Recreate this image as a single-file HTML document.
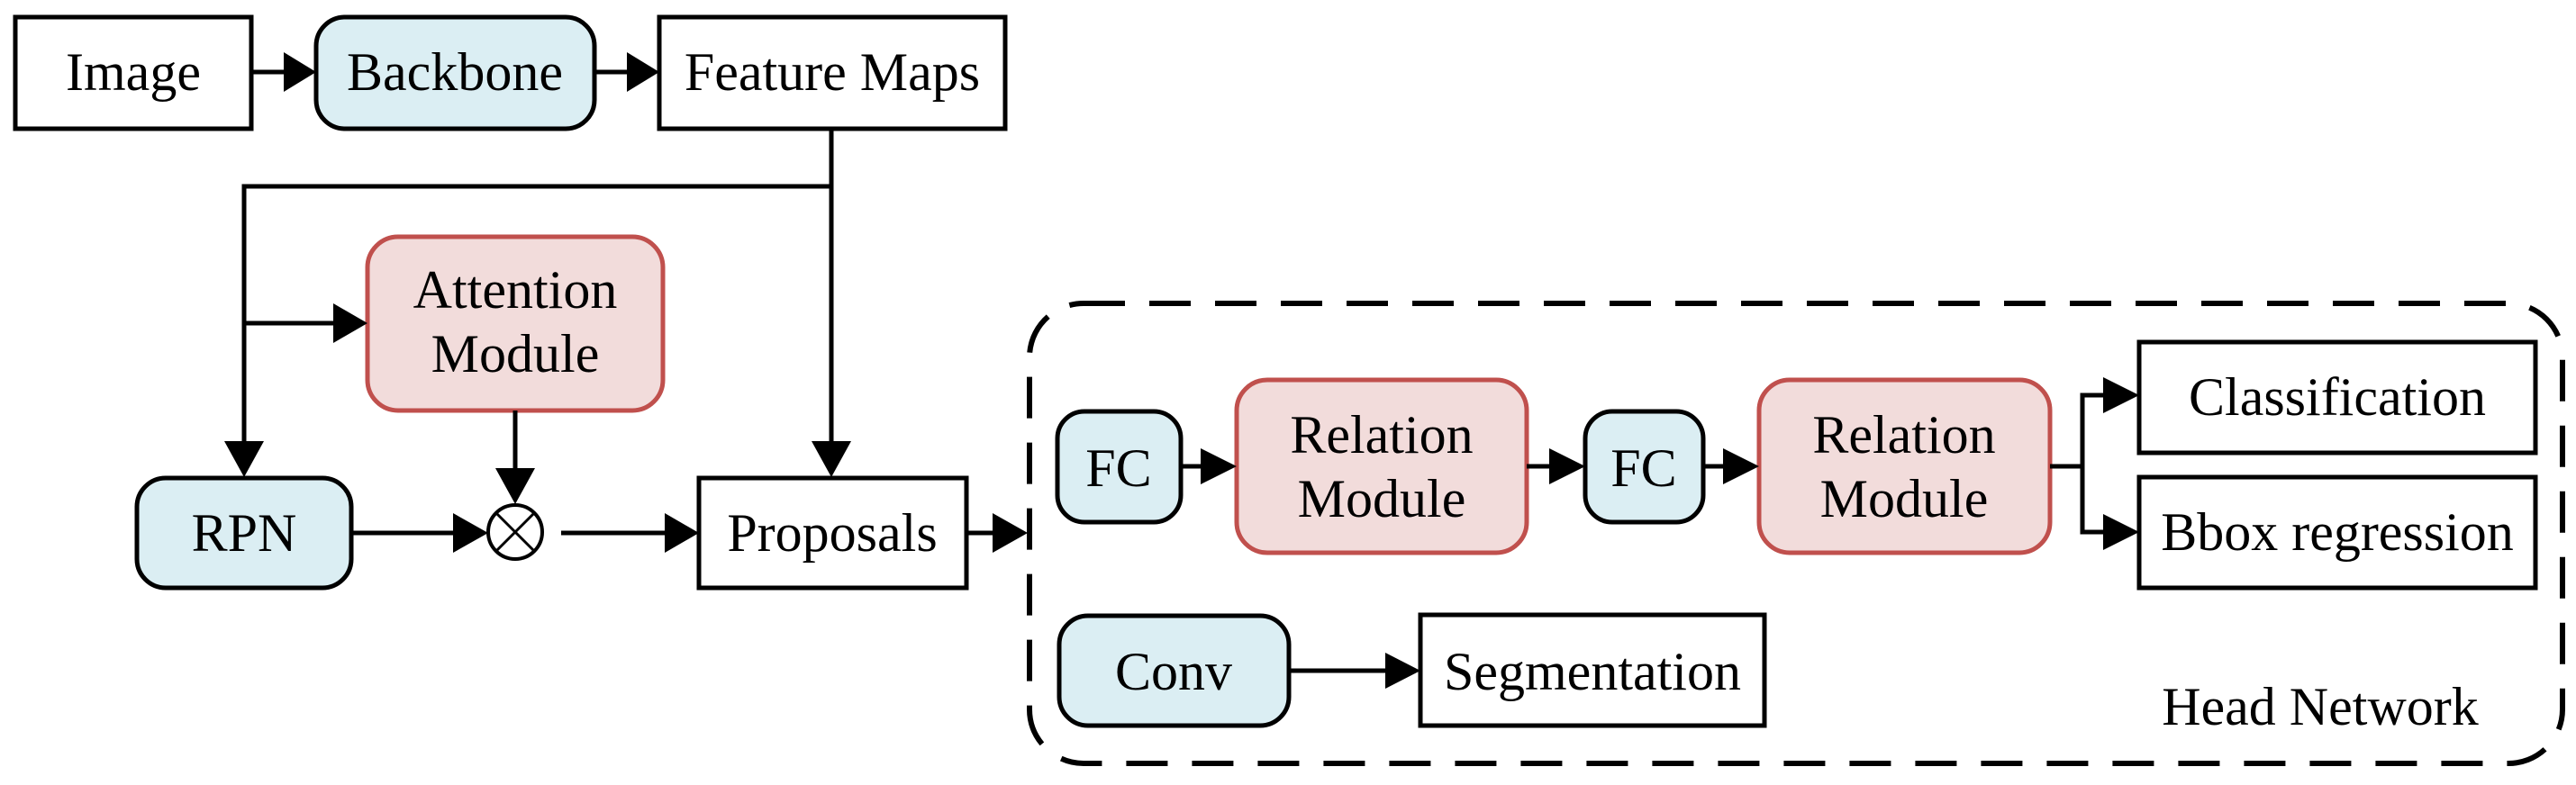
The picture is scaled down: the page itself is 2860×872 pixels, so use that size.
<!DOCTYPE html>
<html><head><meta charset="utf-8"><style>
html,body{margin:0;padding:0;background:#fff;}
svg{display:block;}
text{font-family:"Liberation Serif",serif;font-size:60px;fill:#000;text-anchor:middle;}
</style></head><body>
<svg width="2860" height="872" viewBox="0 0 2860 872" xmlns="http://www.w3.org/2000/svg">
<defs>
<marker id="a" markerWidth="10" markerHeight="12" refX="10" refY="6" orient="auto" markerUnits="userSpaceOnUse" viewBox="0 0 10 12">
</marker>
</defs>
<g stroke="#000" stroke-width="5" fill="none">
<!-- top row -->
<rect x="17" y="19" width="262" height="124" fill="#fff"/>
<rect x="351" y="19" width="309" height="124" rx="32" fill="#dbeef3"/>
<rect x="732" y="19" width="384" height="124" fill="#fff"/>
<line x1="279" y1="80" x2="315" y2="80"/>
<line x1="660" y1="80" x2="696" y2="80"/>
<!-- feature maps down -->
<polyline points="923,143 923,492"/>
<polyline points="923,207 271,207 271,492"/>
<line x1="271" y1="359" x2="372" y2="359"/>
<rect x="408" y="263" width="328" height="193" rx="34" fill="#f2dcdb" stroke="#c0504d"/>
<line x1="572" y1="456" x2="572" y2="522"/>
<rect x="152" y="531" width="238" height="122" rx="32" fill="#dbeef3"/>
<rect x="776" y="531" width="297" height="122" fill="#fff"/>
<circle cx="572" cy="591" r="30" fill="#fff" stroke-width="4"/>
<line x1="551" y1="570" x2="593" y2="612" stroke-width="3"/>
<line x1="593" y1="570" x2="551" y2="612" stroke-width="3"/>
<line x1="390" y1="592" x2="505" y2="592"/>
<line x1="623" y1="592" x2="740" y2="592"/>
<line x1="1073" y1="592" x2="1104" y2="592"/>
<!-- head network -->
<rect x="1143" y="337" width="1702" height="511" rx="60" stroke-width="6" stroke-dasharray="46 27"/>
<rect x="1174" y="457" width="137" height="123" rx="30" fill="#dbeef3"/>
<rect x="1373" y="422" width="322" height="192" rx="34" fill="#f2dcdb" stroke="#c0504d"/>
<rect x="1760" y="457" width="131" height="123" rx="30" fill="#dbeef3"/>
<rect x="1953" y="422" width="323" height="192" rx="34" fill="#f2dcdb" stroke="#c0504d"/>
<line x1="1311" y1="518" x2="1335" y2="518"/>
<line x1="1695" y1="518" x2="1722" y2="518"/>
<line x1="1891" y1="518" x2="1915" y2="518"/>
<polyline points="2276,518 2312,518"/>
<polyline points="2338,439 2312,439 2312,591 2338,591"/>
<rect x="2375" y="380" width="440" height="123" fill="#fff"/>
<rect x="2375" y="530" width="440" height="123" fill="#fff"/>
<rect x="1176" y="684" width="255" height="122" rx="32" fill="#dbeef3"/>
<rect x="1577" y="683" width="382" height="123" fill="#fff"/>
<line x1="1431" y1="745" x2="1540" y2="745"/>
</g>
<g fill="#000">
<polygon points="315,58 351,80 315,102"/>
<polygon points="696,58 732,80 696,102"/>
<polygon points="901,490 945,490 923,530"/>
<polygon points="249,490 293,490 271,530"/>
<polygon points="370,337 408,359 370,381"/>
<polygon points="550,520 594,520 572,560"/>
<polygon points="503,570 542,592 503,614"/>
<polygon points="738,570 776,592 738,614"/>
<polygon points="1102,570 1141,592 1102,614"/>
<polygon points="1333,498 1373,518 1333,538"/>
<polygon points="1720,498 1760,518 1720,538"/>
<polygon points="1913,498 1953,518 1913,538"/>
<polygon points="2335,419 2375,439 2335,459"/>
<polygon points="2335,571 2375,591 2335,611"/>
<polygon points="1538,725 1577,745 1538,765"/>
</g>
<text x="148" y="100">Image</text>
<text x="505" y="100">Backbone</text>
<text x="924" y="100">Feature Maps</text>
<text x="572" y="342">Attention</text>
<text x="572" y="413">Module</text>
<text x="271" y="612">RPN</text>
<text x="924" y="612">Proposals</text>
<text x="1242" y="540">FC</text>
<text x="1534" y="503">Relation</text>
<text x="1534" y="574">Module</text>
<text x="1825" y="540">FC</text>
<text x="2114" y="503">Relation</text>
<text x="2114" y="574">Module</text>
<text x="2595" y="461">Classification</text>
<text x="2595" y="611">Bbox regression</text>
<text x="1303" y="766">Conv</text>
<text x="1768" y="766">Segmentation</text>
<text x="2576" y="805">Head Network</text>
</svg>
</body></html>
